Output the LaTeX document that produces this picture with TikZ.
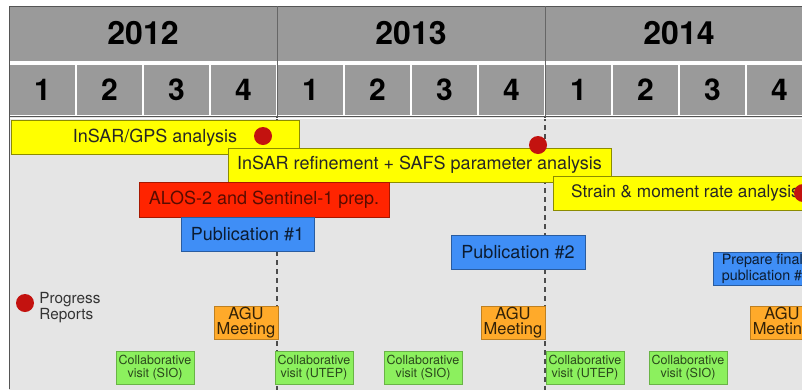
\documentclass[tikz,border=0pt]{standalone}
\usepackage{fontspec}
\setmainfont{TeX Gyre Heros}
\usetikzlibrary{positioning}
\definecolor{headgray}{HTML}{9A9A9A}
\definecolor{framegray}{HTML}{555555}
\definecolor{bodygray}{HTML}{E5E5E5}
\definecolor{taskyellow}{HTML}{FFFF00}
\definecolor{taskred}{HTML}{FF2400}
\definecolor{pubblue}{HTML}{3F8EF6}
\definecolor{aguorange}{HTML}{FFAA2A}
\definecolor{visitgreen}{HTML}{8CF05E}
\definecolor{dotred}{HTML}{C3120F}

\begin{document}
\begin{tikzpicture}[x=1pt,y=-1pt,
  year/.style={fill=headgray,minimum width=268pt,minimum height=55pt,inner sep=0pt,
    font=\fontsize{32}{32}\selectfont\bfseries},
  quarter/.style={fill=headgray,draw=white,line width=1.5pt,minimum width=67pt,minimum height=52pt,
    inner sep=0pt,font=\fontsize{30}{30}\selectfont\bfseries},
  bar/.style={draw,line width=.8pt,minimum height=34pt,inner sep=0pt,
    font=\fontsize{18}{20}\selectfont},
  task/.style={bar,fill=taskyellow,draw=black!45!taskyellow,text=black!85},
  prep/.style={bar,fill=taskred,draw=black!35!taskred,text=black!65!taskred},
  pub/.style={bar,fill=pubblue,draw=black!35!pubblue,text=black!80!pubblue},
  smallbox/.style={draw,line width=.8pt,align=center,inner sep=0pt,minimum height=33pt},
  agu/.style={smallbox,fill=aguorange,draw=black!25!aguorange,text=black!80!aguorange,minimum width=64pt,
    font=\fontsize{16.5}{15}\selectfont},
  visit/.style={smallbox,fill=visitgreen,draw=black!25!visitgreen,text=black!70!visitgreen,minimum width=78pt,
    font=\fontsize{12.5}{13}\selectfont},
  dot/.style={circle,fill=dotred,minimum size=18pt,inner sep=0pt}]
  \useasboundingbox (0,0) rectangle (802,389);
  \clip (0,0) rectangle (802,389);
  % body and year guides
  \fill[bodygray] (9,116) rectangle (815,395);
  \draw[black!70,line width=1.3pt,dash pattern=on 5pt off 4pt] (277,116) -- (277,395);
  \draw[black!70,line width=1.3pt,dash pattern=on 5pt off 4pt] (545,116) -- (545,395);
  % header
  \node[year] (yr12) at (143,33.5) {2012};
  \node[year] (yr13) at (411,33.5) {2013};
  \node[year] (yr14) at (679,33.5) {2014};
  \node[quarter] (q12a) at (42.5,90) {1};
  \node[quarter] (q12b) at (109.5,90) {2};
  \node[quarter] (q12c) at (176.5,90) {3};
  \node[quarter] (q12d) at (243.5,90) {4};
  \node[quarter] (q13a) at (310.5,90) {1};
  \node[quarter] (q13b) at (377.5,90) {2};
  \node[quarter] (q13c) at (444.5,90) {3};
  \node[quarter] (q13d) at (511.5,90) {4};
  \node[quarter] (q14a) at (578.5,90) {1};
  \node[quarter] (q14b) at (645.5,90) {2};
  \node[quarter] (q14c) at (712.5,90) {3};
  \node[quarter] (q14d) at (779.5,90) {4};
  \draw[white,line width=1.5pt] (9,118.5) -- (815,118.5);
  \draw[framegray,line width=1pt] (9,389) -- (9,6) -- (815,6);
  \draw[framegray,line width=.9pt] (9,116) -- (815,116);
  \draw[black!60,line width=.8pt] (277,6) -- (277,116);
  \draw[black!60,line width=.8pt] (545,6) -- (545,116);
  % tasks
  \node[task,minimum width=288pt] (gps) at (155,137.5) {InSAR/GPS analysis\hspace{20pt}};
  \node[task,minimum width=383pt] (refine) at (419.5,165) {InSAR refinement + SAFS parameter analysis};
  \node[prep,minimum width=250pt,minimum height=35pt] (alos) at (264,199.5) {ALOS-2 and Sentinel-1 prep.};
  \node[task,minimum width=265pt,font=\fontsize{17.2}{20}\selectfont] (strain) at (685.5,193)
    {Strain \& moment rate analysis\hspace{18pt}};
  \node[pub,minimum width=133pt] (pubone) at (247.5,234) {Publication \#1};
  \node[pub,minimum width=134pt] (pubtwo) at (518,252) {Publication \#2};
  \node[pub,minimum width=106pt,minimum height=33pt,align=left,font=\fontsize{14.3}{16}\selectfont] (pubfinal) at (766,268.5)
    {Prepare final\\publication \#3};
  % progress reports
  \node[dot] (gpsdot) at (263,136) {};
  \node[dot] (refinedot) at (538,145) {};
  \node[dot] (straindot) at (803,193) {};
  \node[dot] (progdot) at (25,303) {};
  \node[align=left,inner sep=0pt,font=\fontsize{15.3}{16}\selectfont,text=black!80,right=5pt of progdot,yshift=-5pt] (progress)
    {Progress\\Reports};
  % meetings and visits
  \node[agu] (aguone) at (246,323) {AGU\\Meeting};
  \node[agu] (agutwo) at (513,323) {AGU\\Meeting};
  \node[agu] (aguthree) at (782,323) {AGU\\Meeting};
  \node[visit] (sioone) at (155,367.5) {Collaborative\\visit (SIO)};
  \node[visit] (utepone) at (314,367.5) {Collaborative\\visit (UTEP)};
  \node[visit] (siotwo) at (423,367.5) {Collaborative\\visit (SIO)};
  \node[visit] (uteptwo) at (585,367.5) {Collaborative\\visit (UTEP)};
  \node[visit] (siothree) at (688,367.5) {Collaborative\\visit (SIO)};
\end{tikzpicture}
\end{document}
